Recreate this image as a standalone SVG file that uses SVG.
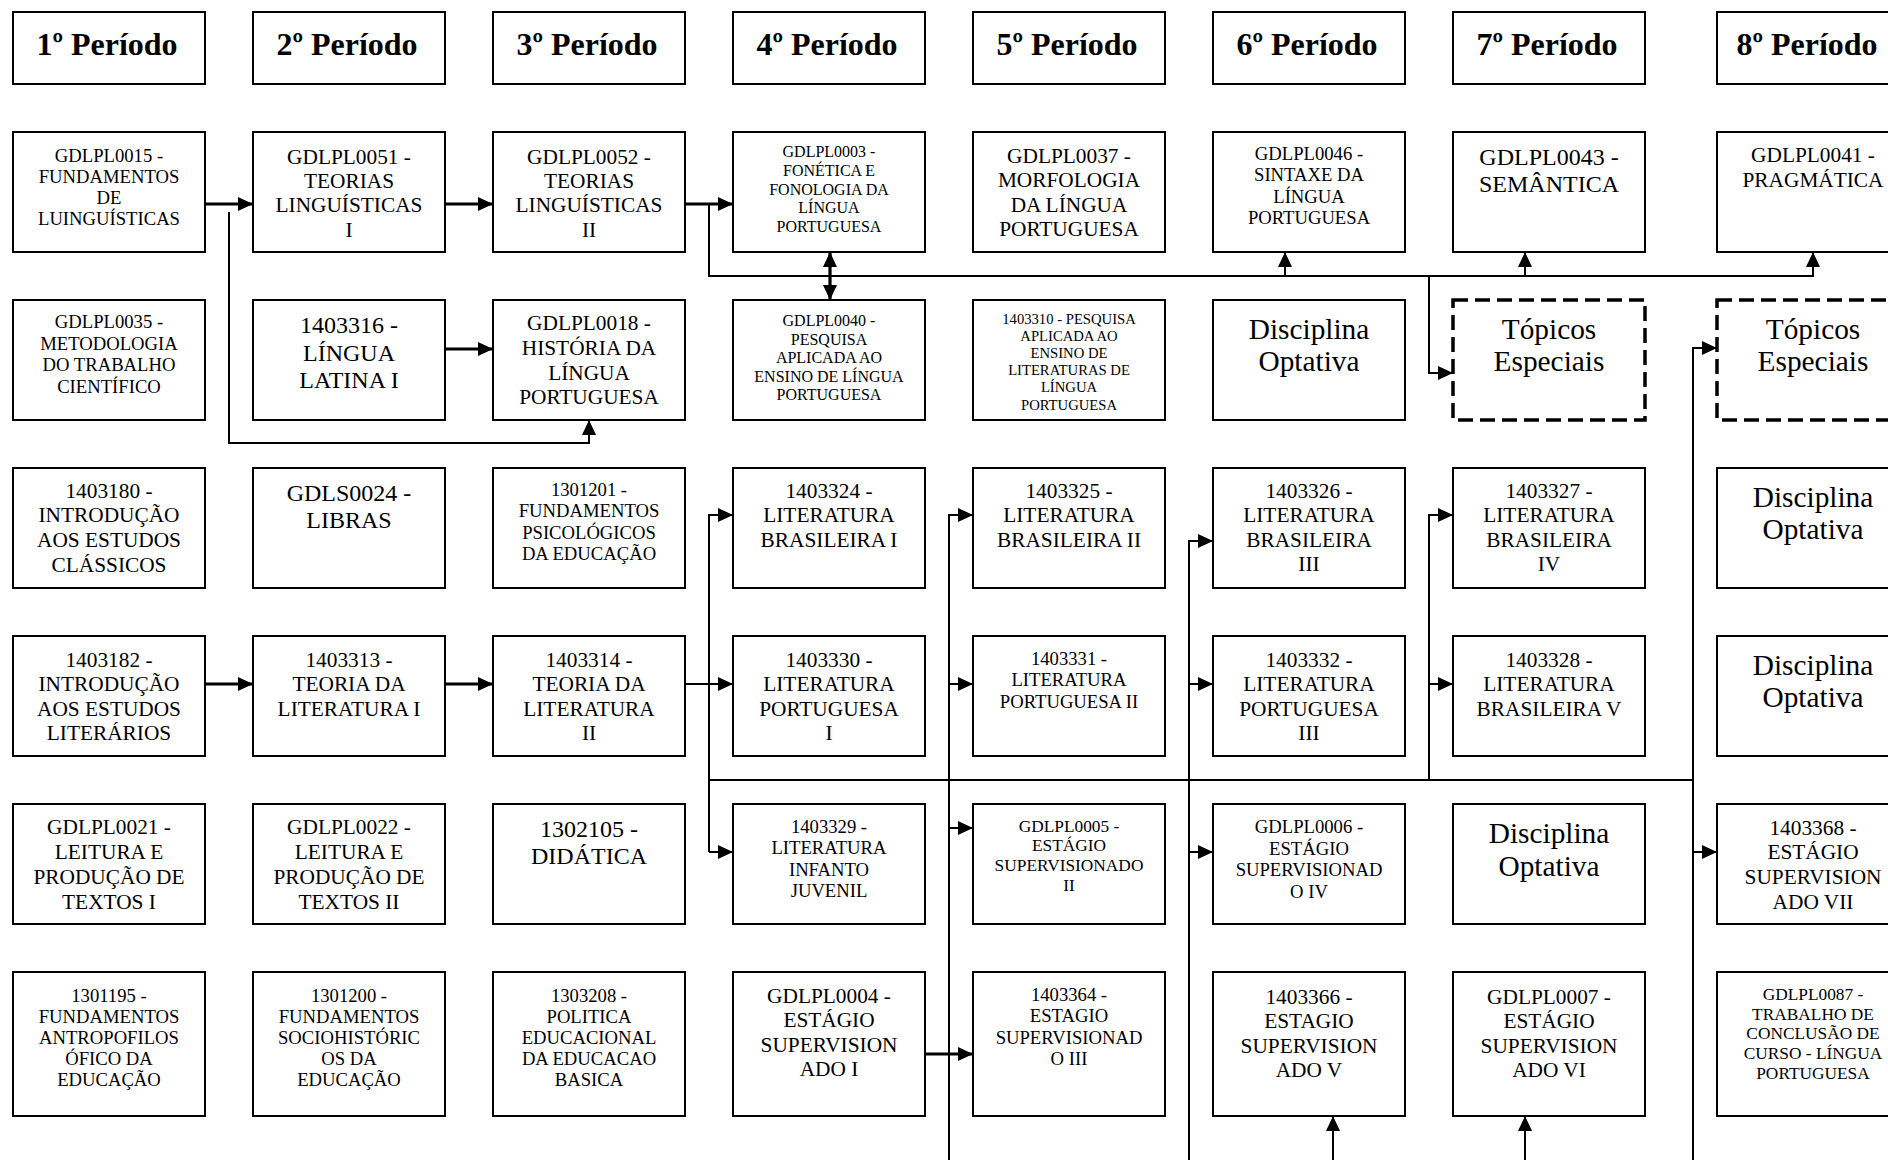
<svg xmlns="http://www.w3.org/2000/svg" width="1888" height="1160" viewBox="0 0 1888 1160">
<style>
.bg{fill:#fff}
.box{fill:#fff;stroke:#000;stroke-width:2}
.dash{fill:#fff;stroke:#000;stroke-width:3.5;stroke-dasharray:15 7}
text{font-family:"Liberation Serif","Times New Roman",serif;fill:#000;text-anchor:middle}
.hdr{font-size:32px;font-weight:bold}
.f14{font-size:14.67px}
.f16{font-size:16px}
.f17{font-size:17.33px}
.f18{font-size:18.67px}
.f21{font-size:21.33px}
.f24{font-size:24px}
.f29{font-size:29.33px}
.c{fill:none;stroke:#000;stroke-width:2}
.t{fill:none;stroke:#000;stroke-width:3.2}
</style>
<defs>
<marker id="ah" markerUnits="userSpaceOnUse" markerWidth="16" markerHeight="14" refX="15" refY="7" orient="auto">
<path d="M0,0 L15,7 L0,14 z" fill="#000"/>
</marker>
<marker id="as" markerUnits="userSpaceOnUse" markerWidth="16" markerHeight="14" refX="0" refY="7" orient="auto">
<path d="M15,0 L0,7 L15,14 z" fill="#000"/>
</marker>
</defs>
<rect class="bg" x="0" y="0" width="1888" height="1160"/>

<g id="headers">
<g id="h1"><rect class="box" x="13" y="12" width="192" height="72"/><text class="hdr" x="107" y="55">1º Período</text></g>
<g id="h2"><rect class="box" x="253" y="12" width="192" height="72"/><text class="hdr" x="347" y="55">2º Período</text></g>
<g id="h3"><rect class="box" x="493" y="12" width="192" height="72"/><text class="hdr" x="587" y="55">3º Período</text></g>
<g id="h4"><rect class="box" x="733" y="12" width="192" height="72"/><text class="hdr" x="827" y="55">4º Período</text></g>
<g id="h5"><rect class="box" x="973" y="12" width="192" height="72"/><text class="hdr" x="1067" y="55">5º Período</text></g>
<g id="h6"><rect class="box" x="1213" y="12" width="192" height="72"/><text class="hdr" x="1307" y="55">6º Período</text></g>
<g id="h7"><rect class="box" x="1453" y="12" width="192" height="72"/><text class="hdr" x="1547" y="55">7º Período</text></g>
<g id="h8"><rect class="box" x="1717" y="12" width="192" height="72"/><text class="hdr" x="1807" y="55">8º Período</text></g>
</g>

<g id="connectors">
<path class="t" d="M205,204 H253" marker-end="url(#ah)"/>
<path class="t" d="M445,204 H493" marker-end="url(#ah)"/>
<path class="t" d="M685,204 H733" marker-end="url(#ah)"/>
<path class="c" d="M229,212 V443 H589 V420" marker-end="url(#ah)"/>
<path class="t" d="M445,349 H493" marker-end="url(#ah)"/>
<path class="c" d="M709,204 V276 H1813 V252" marker-end="url(#ah)"/>
<path class="c" d="M1285,276 V252" marker-end="url(#ah)"/>
<path class="c" d="M1525,276 V252" marker-end="url(#ah)"/>
<path class="c" d="M1429,276 V373 H1453" marker-end="url(#ah)"/>
<path class="t" d="M830,252 V300" marker-start="url(#as)" marker-end="url(#ah)"/>

<path class="t" d="M205,684 H253" marker-end="url(#ah)"/>
<path class="t" d="M445,684 H493" marker-end="url(#ah)"/>
<path class="c" d="M685,684 H733" marker-end="url(#ah)"/>
<path class="c" d="M709,852 V515 H733" marker-end="url(#ah)"/>
<path class="c" d="M709,852 H733" marker-end="url(#ah)"/>
<path class="c" d="M709,780 H1693"/>

<path class="c" d="M949,1160 V515 H973" marker-end="url(#ah)"/>
<path class="c" d="M949,684 H973" marker-end="url(#ah)"/>
<path class="c" d="M949,828 H973" marker-end="url(#ah)"/>

<path class="c" d="M1189,1160 V541 H1213" marker-end="url(#ah)"/>
<path class="c" d="M1189,684 H1213" marker-end="url(#ah)"/>
<path class="c" d="M1189,852 H1213" marker-end="url(#ah)"/>

<path class="c" d="M1429,780 V515 H1453" marker-end="url(#ah)"/>
<path class="c" d="M1429,684 H1453" marker-end="url(#ah)"/>

<path class="c" d="M1693,1160 V348 H1717" marker-end="url(#ah)"/>
<path class="c" d="M1693,852 H1717" marker-end="url(#ah)"/>

<path class="t" d="M925,1054 H973" marker-end="url(#ah)"/>
<path class="c" d="M1333,1160 V1116" marker-end="url(#ah)"/>
<path class="c" d="M1525,1160 V1116" marker-end="url(#ah)"/>
</g>

<g id="row1">
<g id="n-gdlpl0015"><rect class="box" x="13" y="132" width="192" height="120"/><text class="f18" y="162"><tspan x="109">GDLPL0015 -</tspan><tspan x="109" dy="21">FUNDAMENTOS</tspan><tspan x="109" dy="21">DE</tspan><tspan x="109" dy="21">LUINGUÍSTICAS</tspan></text></g>
<g id="n-gdlpl0051"><rect class="box" x="253" y="132" width="192" height="120"/><text class="f21" y="163.7"><tspan x="349">GDLPL0051 -</tspan><tspan x="349" dy="24.3">TEORIAS</tspan><tspan x="349" dy="24.3">LINGUÍSTICAS</tspan><tspan x="349" dy="24.3">I</tspan></text></g>
<g id="n-gdlpl0052"><rect class="box" x="493" y="132" width="192" height="120"/><text class="f21" y="163.7"><tspan x="589">GDLPL0052 -</tspan><tspan x="589" dy="24.3">TEORIAS</tspan><tspan x="589" dy="24.3">LINGUÍSTICAS</tspan><tspan x="589" dy="24.3">II</tspan></text></g>
<g id="n-gdlpl0003"><rect class="box" x="733" y="132" width="192" height="120"/><text class="f16" y="157.3"><tspan x="829">GDLPL0003 -</tspan><tspan x="829" dy="18.7">FONÉTICA E</tspan><tspan x="829" dy="18.7">FONOLOGIA DA</tspan><tspan x="829" dy="18.7">LÍNGUA</tspan><tspan x="829" dy="18.7">PORTUGUESA</tspan></text></g>
<g id="n-gdlpl0037"><rect class="box" x="973" y="132" width="192" height="120"/><text class="f21" y="163"><tspan x="1069">GDLPL0037 -</tspan><tspan x="1069" dy="24.3">MORFOLOGIA</tspan><tspan x="1069" dy="24.3">DA LÍNGUA</tspan><tspan x="1069" dy="24.3">PORTUGUESA</tspan></text></g>
<g id="n-gdlpl0046"><rect class="box" x="1213" y="132" width="192" height="120"/><text class="f18" y="160"><tspan x="1309">GDLPL0046 -</tspan><tspan x="1309" dy="21.3">SINTAXE DA</tspan><tspan x="1309" dy="21.3">LÍNGUA</tspan><tspan x="1309" dy="21.3">PORTUGUESA</tspan></text></g>
<g id="n-gdlpl0043"><rect class="box" x="1453" y="132" width="192" height="120"/><text class="f24" y="164.6"><tspan x="1549">GDLPL0043 -</tspan><tspan x="1549" dy="27.6">SEMÂNTICA</tspan></text></g>
<g id="n-gdlpl0041"><rect class="box" x="1717" y="132" width="192" height="120"/><text class="f21" y="162"><tspan x="1813">GDLPL0041 -</tspan><tspan x="1813" dy="25">PRAGMÁTICA</tspan></text></g>
</g>

<g id="row2">
<g id="n-gdlpl0035"><rect class="box" x="13" y="300" width="192" height="120"/><text class="f18" y="328"><tspan x="109">GDLPL0035 -</tspan><tspan x="109" dy="21.7">METODOLOGIA</tspan><tspan x="109" dy="21.7">DO TRABALHO</tspan><tspan x="109" dy="21.7">CIENTÍFICO</tspan></text></g>
<g id="n-1403316"><rect class="box" x="253" y="300" width="192" height="120"/><text class="f24" y="333"><tspan x="349">1403316 -</tspan><tspan x="349" dy="27.5">LÍNGUA</tspan><tspan x="349" dy="27.5">LATINA I</tspan></text></g>
<g id="n-gdlpl0018"><rect class="box" x="493" y="300" width="192" height="120"/><text class="f21" y="330.3"><tspan x="589">GDLPL0018 -</tspan><tspan x="589" dy="24.7">HISTÓRIA DA</tspan><tspan x="589" dy="24.7">LÍNGUA</tspan><tspan x="589" dy="24.7">PORTUGUESA</tspan></text></g>
<g id="n-gdlpl0040"><rect class="box" x="733" y="300" width="192" height="120"/><text class="f16" y="326"><tspan x="829">GDLPL0040 -</tspan><tspan x="829" dy="18.6">PESQUISA</tspan><tspan x="829" dy="18.6">APLICADA AO</tspan><tspan x="829" dy="18.6">ENSINO DE LÍNGUA</tspan><tspan x="829" dy="18.6">PORTUGUESA</tspan></text></g>
<g id="n-1403310"><rect class="box" x="973" y="300" width="192" height="120"/><text class="f14" y="324"><tspan x="1069">1403310 - PESQUISA</tspan><tspan x="1069" dy="17.1">APLICADA AO</tspan><tspan x="1069" dy="17.1">ENSINO DE</tspan><tspan x="1069" dy="17.1">LITERATURAS DE</tspan><tspan x="1069" dy="17.1">LÍNGUA</tspan><tspan x="1069" dy="17.1">PORTUGUESA</tspan></text></g>
<g id="n-opt6a"><rect class="box" x="1213" y="300" width="192" height="120"/><text class="f29" y="339"><tspan x="1309">Disciplina</tspan><tspan x="1309" dy="32">Optativa</tspan></text></g>
<g id="n-topicos7"><rect class="dash" x="1453" y="300" width="192" height="120"/><text class="f29" y="339"><tspan x="1549">Tópicos</tspan><tspan x="1549" dy="32">Especiais</tspan></text></g>
<g id="n-topicos8"><rect class="dash" x="1717" y="300" width="192" height="120"/><text class="f29" y="339"><tspan x="1813">Tópicos</tspan><tspan x="1813" dy="32">Especiais</tspan></text></g>
</g>

<g id="row3">
<g id="n-1403180"><rect class="box" x="13" y="468" width="192" height="120"/><text class="f21" y="497.7"><tspan x="109">1403180 -</tspan><tspan x="109" dy="24.7">INTRODUÇÃO</tspan><tspan x="109" dy="24.7">AOS ESTUDOS</tspan><tspan x="109" dy="24.7">CLÁSSICOS</tspan></text></g>
<g id="n-gdls0024"><rect class="box" x="253" y="468" width="192" height="120"/><text class="f24" y="501"><tspan x="349">GDLS0024 -</tspan><tspan x="349" dy="27">LIBRAS</tspan></text></g>
<g id="n-1301201"><rect class="box" x="493" y="468" width="192" height="120"/><text class="f18" y="496"><tspan x="589">1301201 -</tspan><tspan x="589" dy="21.3">FUNDAMENTOS</tspan><tspan x="589" dy="21.3">PSICOLÓGICOS</tspan><tspan x="589" dy="21.3">DA EDUCAÇÃO</tspan></text></g>
<g id="n-1403324"><rect class="box" x="733" y="468" width="192" height="120"/><text class="f21" y="497.7"><tspan x="829">1403324 -</tspan><tspan x="829" dy="24.5">LITERATURA</tspan><tspan x="829" dy="24.5">BRASILEIRA I</tspan></text></g>
<g id="n-1403325"><rect class="box" x="973" y="468" width="192" height="120"/><text class="f21" y="497.7"><tspan x="1069">1403325 -</tspan><tspan x="1069" dy="24.5">LITERATURA</tspan><tspan x="1069" dy="24.5">BRASILEIRA II</tspan></text></g>
<g id="n-1403326"><rect class="box" x="1213" y="468" width="192" height="120"/><text class="f21" y="497.7"><tspan x="1309">1403326 -</tspan><tspan x="1309" dy="24.5">LITERATURA</tspan><tspan x="1309" dy="24.5">BRASILEIRA</tspan><tspan x="1309" dy="24.5">III</tspan></text></g>
<g id="n-1403327"><rect class="box" x="1453" y="468" width="192" height="120"/><text class="f21" y="497.7"><tspan x="1549">1403327 -</tspan><tspan x="1549" dy="24.5">LITERATURA</tspan><tspan x="1549" dy="24.5">BRASILEIRA</tspan><tspan x="1549" dy="24.5">IV</tspan></text></g>
<g id="n-opt8a"><rect class="box" x="1717" y="468" width="192" height="120"/><text class="f29" y="507"><tspan x="1813">Disciplina</tspan><tspan x="1813" dy="32">Optativa</tspan></text></g>
</g>

<g id="row4">
<g id="n-1403182"><rect class="box" x="13" y="636" width="192" height="120"/><text class="f21" y="667"><tspan x="109">1403182 -</tspan><tspan x="109" dy="24.3">INTRODUÇÃO</tspan><tspan x="109" dy="24.3">AOS ESTUDOS</tspan><tspan x="109" dy="24.3">LITERÁRIOS</tspan></text></g>
<g id="n-1403313"><rect class="box" x="253" y="636" width="192" height="120"/><text class="f21" y="667"><tspan x="349">1403313 -</tspan><tspan x="349" dy="24.3">TEORIA DA</tspan><tspan x="349" dy="24.3">LITERATURA I</tspan></text></g>
<g id="n-1403314"><rect class="box" x="493" y="636" width="192" height="120"/><text class="f21" y="667"><tspan x="589">1403314 -</tspan><tspan x="589" dy="24.3">TEORIA DA</tspan><tspan x="589" dy="24.3">LITERATURA</tspan><tspan x="589" dy="24.3">II</tspan></text></g>
<g id="n-1403330"><rect class="box" x="733" y="636" width="192" height="120"/><text class="f21" y="667"><tspan x="829">1403330 -</tspan><tspan x="829" dy="24.3">LITERATURA</tspan><tspan x="829" dy="24.3">PORTUGUESA</tspan><tspan x="829" dy="24.3">I</tspan></text></g>
<g id="n-1403331"><rect class="box" x="973" y="636" width="192" height="120"/><text class="f18" y="665"><tspan x="1069">1403331 -</tspan><tspan x="1069" dy="21.3">LITERATURA</tspan><tspan x="1069" dy="21.3">PORTUGUESA II</tspan></text></g>
<g id="n-1403332"><rect class="box" x="1213" y="636" width="192" height="120"/><text class="f21" y="667"><tspan x="1309">1403332 -</tspan><tspan x="1309" dy="24.3">LITERATURA</tspan><tspan x="1309" dy="24.3">PORTUGUESA</tspan><tspan x="1309" dy="24.3">III</tspan></text></g>
<g id="n-1403328"><rect class="box" x="1453" y="636" width="192" height="120"/><text class="f21" y="667"><tspan x="1549">1403328 -</tspan><tspan x="1549" dy="24.3">LITERATURA</tspan><tspan x="1549" dy="24.3">BRASILEIRA V</tspan></text></g>
<g id="n-opt8b"><rect class="box" x="1717" y="636" width="192" height="120"/><text class="f29" y="675"><tspan x="1813">Disciplina</tspan><tspan x="1813" dy="32">Optativa</tspan></text></g>
</g>

<g id="row5">
<g id="n-gdlpl0021"><rect class="box" x="13" y="804" width="192" height="120"/><text class="f21" y="833.7"><tspan x="109">GDLPL0021 -</tspan><tspan x="109" dy="25">LEITURA E</tspan><tspan x="109" dy="25">PRODUÇÃO DE</tspan><tspan x="109" dy="25">TEXTOS I</tspan></text></g>
<g id="n-gdlpl0022"><rect class="box" x="253" y="804" width="192" height="120"/><text class="f21" y="833.7"><tspan x="349">GDLPL0022 -</tspan><tspan x="349" dy="25">LEITURA E</tspan><tspan x="349" dy="25">PRODUÇÃO DE</tspan><tspan x="349" dy="25">TEXTOS II</tspan></text></g>
<g id="n-1302105"><rect class="box" x="493" y="804" width="192" height="120"/><text class="f24" y="837"><tspan x="589">1302105 -</tspan><tspan x="589" dy="27">DIDÁTICA</tspan></text></g>
<g id="n-1403329"><rect class="box" x="733" y="804" width="192" height="120"/><text class="f18" y="833"><tspan x="829">1403329 -</tspan><tspan x="829" dy="21.3">LITERATURA</tspan><tspan x="829" dy="21.3">INFANTO</tspan><tspan x="829" dy="21.3">JUVENIL</tspan></text></g>
<g id="n-gdlpl0005"><rect class="box" x="973" y="804" width="192" height="120"/><text class="f17" y="831.7"><tspan x="1069">GDLPL0005 -</tspan><tspan x="1069" dy="19.7">ESTÁGIO</tspan><tspan x="1069" dy="19.7">SUPERVISIONADO</tspan><tspan x="1069" dy="19.7">II</tspan></text></g>
<g id="n-gdlpl0006"><rect class="box" x="1213" y="804" width="192" height="120"/><text class="f18" y="833"><tspan x="1309">GDLPL0006 -</tspan><tspan x="1309" dy="21.7">ESTÁGIO</tspan><tspan x="1309" dy="21.7">SUPERVISIONAD</tspan><tspan x="1309" dy="21.7">O IV</tspan></text></g>
<g id="n-opt7"><rect class="box" x="1453" y="804" width="192" height="120"/><text class="f29" y="843"><tspan x="1549">Disciplina</tspan><tspan x="1549" dy="32.5">Optativa</tspan></text></g>
<g id="n-1403368"><rect class="box" x="1717" y="804" width="192" height="120"/><text class="f21" y="834.7"><tspan x="1813">1403368 -</tspan><tspan x="1813" dy="24.7">ESTÁGIO</tspan><tspan x="1813" dy="24.7">SUPERVISION</tspan><tspan x="1813" dy="24.7">ADO VII</tspan></text></g>
</g>

<g id="row6">
<g id="n-1301195"><rect class="box" x="13" y="972" width="192" height="144"/><text class="f18" y="1002"><tspan x="109">1301195 -</tspan><tspan x="109" dy="21">FUNDAMENTOS</tspan><tspan x="109" dy="21">ANTROPOFILOS</tspan><tspan x="109" dy="21">ÓFICO DA</tspan><tspan x="109" dy="21">EDUCAÇÃO</tspan></text></g>
<g id="n-1301200"><rect class="box" x="253" y="972" width="192" height="144"/><text class="f18" y="1002"><tspan x="349">1301200 -</tspan><tspan x="349" dy="21">FUNDAMENTOS</tspan><tspan x="349" dy="21">SOCIOHISTÓRIC</tspan><tspan x="349" dy="21">OS DA</tspan><tspan x="349" dy="21">EDUCAÇÃO</tspan></text></g>
<g id="n-1303208"><rect class="box" x="493" y="972" width="192" height="144"/><text class="f18" y="1002"><tspan x="589">1303208 -</tspan><tspan x="589" dy="21">POLITICA</tspan><tspan x="589" dy="21">EDUCACIONAL</tspan><tspan x="589" dy="21">DA EDUCACAO</tspan><tspan x="589" dy="21">BASICA</tspan></text></g>
<g id="n-gdlpl0004"><rect class="box" x="733" y="972" width="192" height="144"/><text class="f21" y="1003"><tspan x="829">GDLPL0004 -</tspan><tspan x="829" dy="24.4">ESTÁGIO</tspan><tspan x="829" dy="24.4">SUPERVISION</tspan><tspan x="829" dy="24.4">ADO I</tspan></text></g>
<g id="n-1403364"><rect class="box" x="973" y="972" width="192" height="144"/><text class="f18" y="1001"><tspan x="1069">1403364 -</tspan><tspan x="1069" dy="21.3">ESTAGIO</tspan><tspan x="1069" dy="21.3">SUPERVISIONAD</tspan><tspan x="1069" dy="21.3">O III</tspan></text></g>
<g id="n-1403366"><rect class="box" x="1213" y="972" width="192" height="144"/><text class="f21" y="1003.7"><tspan x="1309">1403366 -</tspan><tspan x="1309" dy="24.4">ESTAGIO</tspan><tspan x="1309" dy="24.4">SUPERVISION</tspan><tspan x="1309" dy="24.4">ADO V</tspan></text></g>
<g id="n-gdlpl0007"><rect class="box" x="1453" y="972" width="192" height="144"/><text class="f21" y="1003.7"><tspan x="1549">GDLPL0007 -</tspan><tspan x="1549" dy="24.4">ESTÁGIO</tspan><tspan x="1549" dy="24.4">SUPERVISION</tspan><tspan x="1549" dy="24.4">ADO VI</tspan></text></g>
<g id="n-gdlpl0087"><rect class="box" x="1717" y="972" width="192" height="144"/><text class="f17" y="999.7"><tspan x="1813">GDLPL0087 -</tspan><tspan x="1813" dy="19.8">TRABALHO DE</tspan><tspan x="1813" dy="19.8">CONCLUSÃO DE</tspan><tspan x="1813" dy="19.8">CURSO - LÍNGUA</tspan><tspan x="1813" dy="19.8">PORTUGUESA</tspan></text></g>
</g>
</svg>
